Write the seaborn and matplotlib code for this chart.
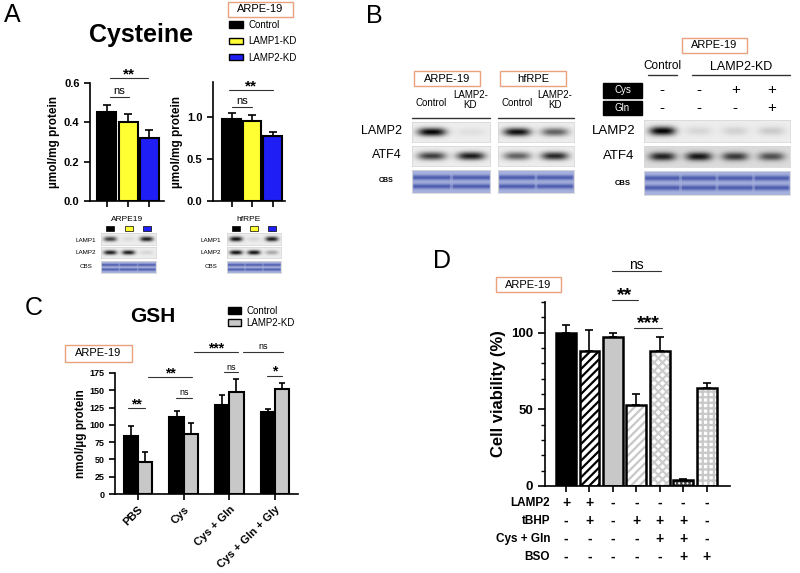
import numpy as np
import pandas as pd
import matplotlib.pyplot as plt
import seaborn as sns
from matplotlib.patches import Rectangle, Patch
from matplotlib.lines import Line2D
from matplotlib.ticker import MultipleLocator

W, H = 800, 573

# ---- Panel A: cysteine (umol/mg protein) ----
a_groups = ['Control', 'LAMP1-KD', 'LAMP2-KD']
a_colors = ['#000000', '#ffff33', '#1e1ef5']
a_arpe_mean = [0.45, 0.40, 0.32]
a_arpe_err = [0.04, 0.04, 0.04]
a_hfrpe_mean = [0.98, 0.95, 0.77]
a_hfrpe_err = [0.07, 0.08, 0.05]
# blot band intensities, 0 = no band, 1 = saturated
a_arpe_lamp1 = [0.75, 0.08, 0.9]
a_arpe_lamp2 = [0.9, 0.9, 0.1]
a_hfrpe_lamp1 = [0.95, 0.1, 0.9]
a_hfrpe_lamp2 = [0.95, 0.95, 0.3]

# ---- Panel B: blots ----
b_arpe_lamp2 = [1.0, 0.06]
b_arpe_atf4 = [0.75, 0.9]
b_hfrpe_lamp2 = [0.95, 0.6]
b_hfrpe_atf4 = [0.6, 0.85]
b_treat_lamp2 = [1.0, 0.1, 0.12, 0.15]
b_treat_atf4 = [0.8, 0.85, 0.7, 0.6]
b_cys = ['-', '-', '+', '+']
b_gln = ['-', '-', '-', '+']

# ---- Panel C: GSH (nmol/ug protein) ----
c_treatments = ['PBS', 'Cys', 'Cys + Gln', 'Cys + Gln + Gly']
c_control = [84, 112, 128, 119]
c_control_err = [14, 8, 15, 4]
c_kd = [46, 87, 147, 152]
c_kd_err = [15, 16, 20, 8]

# ---- Panel D: cell viability (%) ----
d_conditions = ['ctrl', 'tBHP', 'KD', 'KD+tBHP', 'KD+tBHP+CG', 'KD+tBHP+CG+BSO', 'KD+BSO']
d_viability = [100, 88, 97, 53, 88, 4, 64]
d_err = [5, 14, 3, 7, 9, 0.6, 3]
d_lamp2 = ['+', '+', '-', '-', '-', '-', '-']
d_tbhp = ['-', '+', '-', '+', '+', '+', '-']
d_cysgln = ['-', '-', '-', '-', '+', '+', '-']
d_bso = ['-', '-', '-', '-', '-', '+', '+']


# pixel (top-left origin) helpers
def fig_axes(fig, x0, y0, x1, y1):
    return fig.add_axes([x0 / W, 1 - y1 / H, (x1 - x0) / W, (y1 - y0) / H])


def fig_text(fig, x, y, s, **kw):
    kw.setdefault('ha', 'center')
    kw.setdefault('va', 'center')
    fig.text(x / W, 1 - y / H, s, **kw)


def fig_box(fig, x0, y0, x1, y1, text, fc='white', ec='#e9a27e', color='k', size=8):
    fig.add_artist(Rectangle((x0 / W, 1 - y1 / H), (x1 - x0) / W, (y1 - y0) / H,
                             transform=fig.transFigure, fc=fc, ec=ec, lw=1))
    fig_text(fig, (x0 + x1) / 2, (y0 + y1) / 2, text, size=size, color=color)


def fig_line(fig, x0, x1, y, lw=1.0):
    fig.add_artist(Line2D([x0 / W, x1 / W], [1 - y / H, 1 - y / H],
                          transform=fig.transFigure, color='#333333', lw=lw))


def sig(ax, x0, x1, y, label, size=10):
    ax.plot([x0, x1], [y, y], color='#333333', lw=0.8, clip_on=False)
    star = '*' in label
    ax.annotate(label, xy=((x0 + x1) / 2, y), xytext=(0, 0 if star else 2),
                textcoords='offset points', ha='center', va='baseline',
                fontsize=size, weight='bold' if star else 'normal', annotation_clip=False)


# blot rendering from band intensities
def band_strip(levels, bg=0.93):
    n = len(levels)
    xs = np.linspace(0, n, 50 * n)
    ys = np.linspace(-1, 1, 24)
    img = np.zeros((ys.size, xs.size))
    for i, lv in enumerate(levels):
        px = np.exp(-np.abs((xs - i - 0.5) / 0.36) ** 3)
        py = np.exp(-(ys / 0.42) ** 2)
        img += lv * np.outer(py, px)
    return np.clip(bg - 0.92 * img, 0, 1)


def cbs_strip(n):
    xs = np.linspace(0, n, 50 * n)
    ys = np.linspace(0, 1, 24)
    bg = np.array([0.66, 0.70, 0.87])
    band = np.array([0.30, 0.36, 0.68])
    py = np.exp(-((ys - 0.32) / 0.11) ** 2) + np.exp(-((ys - 0.72) / 0.11) ** 2)
    frac = xs % 1
    px = np.where((frac < 0.04) | (frac > 0.96), 0.5, 1.0)
    w = np.clip(np.outer(py, px), 0, 1)[..., None]
    return bg * (1 - w) + band * w


def strip(fig, x0, y0, x1, y1, img):
    ax = fig_axes(fig, x0, y0, x1, y1)
    ax.imshow(img, cmap='gray', vmin=0, vmax=1, aspect='auto', interpolation='bilinear')
    ax.set_xticks([])
    ax.set_yticks([])
    for s in ax.spines.values():
        s.set_color('#d8d8d8')
        s.set_linewidth(0.6)


def bold_ticks(ax, size):
    for lab in ax.get_yticklabels():
        lab.set_fontweight('bold')
        lab.set_fontsize(size)


def cys_bars(fig, box, means, errs, xlim, ytop, yticks, xlabel, sigs):
    ax = fig_axes(fig, *box)
    sns.barplot(x=a_groups, y=means, hue=a_groups, palette=a_colors, legend=False,
                saturation=1, edgecolor='k', linewidth=1.5, width=0.9, ax=ax)
    ax.errorbar(range(3), means, yerr=[[0] * 3, errs], fmt='none', ecolor='k',
                elinewidth=1.2, capsize=3, capthick=1.2)
    ax.set_xlim(*xlim)
    ax.set_ylim(0, ytop)
    ax.set_yticks(yticks)
    ax.set_yticklabels([f'{t:.1f}' for t in yticks])
    bold_ticks(ax, 8)
    ax.set_xticks(range(3))
    ax.set_xticklabels([''] * 3)
    ax.set_xlabel(xlabel, fontsize=6, labelpad=3)
    ax.set_ylabel('µmol/mg protein', fontsize=8.5, weight='bold', labelpad=3)
    sns.despine(ax=ax)
    for x0, x1, y, lab in sigs:
        sig(ax, x0, x1, y, lab, size=11 if '*' in lab else 8)


def small_blot(fig, x0, x1, label_x, lamp1, lamp2):
    lane = (x1 - x0) / 3
    for i, c in enumerate(a_colors):
        cx = x0 + lane * (i + 0.5)
        fig.add_artist(Rectangle(((cx - 4) / W, 1 - 231 / H), 8 / W, 5 / H,
                                 transform=fig.transFigure, fc=c, ec='k', lw=0.5))
    strip(fig, x0, 233, x1, 245, band_strip(lamp1))
    strip(fig, x0, 247, x1, 258, band_strip(lamp2))
    strip(fig, x0, 261, x1, 273, cbs_strip(3))
    for y, name in [(240, 'LAMP1'), (252, 'LAMP2'), (267, 'CBS')]:
        fig_text(fig, label_x, y, name, size=4.5)


def panel_a(fig):
    fig_text(fig, 12, 15, 'A', size=18)
    fig_text(fig, 141, 35, 'Cysteine', size=18, weight='bold')
    fig_box(fig, 228, 2, 293, 17, 'ARPE-19')
    handles = [Patch(fc=c, ec='k', lw=1) for c in a_colors]
    fig.legend(handles, a_groups, loc='upper left', bbox_to_anchor=(229 / W, 1 - 20 / H),
               frameon=False, fontsize=7, handlelength=1.4, handleheight=0.6,
               labelspacing=0.65, handletextpad=0.6, borderpad=0, borderaxespad=0)
    cys_bars(fig, (90, 83, 164, 201), a_arpe_mean, a_arpe_err, (-0.8, 2.7), 0.6,
             [0, 0.2, 0.4, 0.6], 'ARPE19', [(0.15, 1.95, 0.625, '**'), (0.15, 1.05, 0.53, 'ns')])
    cys_bars(fig, (213, 82, 285, 201), a_hfrpe_mean, a_hfrpe_err, (-0.9, 2.6), 1.42,
             [0, 0.5, 1.0], 'hfRPE', [(-0.1, 2.0, 1.32, '**'), (0, 1.0, 1.12, 'ns')])
    small_blot(fig, 101, 156, 86, a_arpe_lamp1, a_arpe_lamp2)
    small_blot(fig, 227, 281, 211, a_hfrpe_lamp1, a_hfrpe_lamp2)


def panel_b(fig):
    fig_text(fig, 374, 16, 'B', size=18)
    for x0, x1, title, lamp2, atf4 in [(412, 490, 'ARPE-19', b_arpe_lamp2, b_arpe_atf4),
                                       (498, 574, 'hfRPE', b_hfrpe_lamp2, b_hfrpe_atf4)]:
        fig_box(fig, x0 + 2, 71, x0 + 68, 86, title)
        lane = (x1 - x0) / 2
        fig_text(fig, x0 + lane * 0.5, 103, 'Control', size=7)
        fig_text(fig, x0 + lane * 1.5, 100, 'LAMP2-\nKD', size=7, linespacing=0.95)
        fig_line(fig, x0, x1, 118)
        strip(fig, x0, 122, x1, 142, band_strip(lamp2))
        strip(fig, x0, 146, x1, 166, band_strip(atf4))
        strip(fig, x0, 170, x1, 193, cbs_strip(2))
    fig_text(fig, 382, 131, 'LAMP2', size=9)
    fig_text(fig, 387, 155, 'ATF4', size=9)
    fig_text(fig, 386, 181, 'CBS', size=5, weight='bold')

    fig_box(fig, 682, 38, 747, 53, 'ARPE-19')
    fig_text(fig, 662, 66, 'Control', size=8.5)
    fig_text(fig, 741, 67, 'LAMP2-KD', size=9)
    fig_line(fig, 648, 677, 75)
    fig_line(fig, 692, 790, 75)
    fig_box(fig, 603, 83, 642, 98, 'Cys', fc='k', ec='k', color='w', size=7)
    fig_box(fig, 603, 101, 642, 115, 'Gln', fc='k', ec='k', color='w', size=7)
    x0, x1 = 644, 790
    lane = (x1 - x0) / 4
    for i, (c, g) in enumerate(zip(b_cys, b_gln)):
        cx = x0 + lane * (i + 0.5)
        fig_text(fig, cx, 90, c, size=11)
        fig_text(fig, cx, 108, g, size=11)
    strip(fig, x0, 120, x1, 142, band_strip(b_treat_lamp2))
    strip(fig, x0, 146, x1, 167, band_strip(b_treat_atf4, bg=0.86))
    strip(fig, x0, 171, x1, 195, cbs_strip(4))
    fig_text(fig, 614, 131, 'LAMP2', size=9.5)
    fig_text(fig, 619, 156, 'ATF4', size=9.5)
    fig_text(fig, 623, 183, 'CBS', size=5.5, weight='bold')


def panel_c(fig):
    fig_text(fig, 34, 308, 'C', size=18)
    fig_text(fig, 153, 316, 'GSH', size=15, weight='bold')
    fig_box(fig, 65, 345, 132, 362, 'ARPE-19')
    colors = ['#000000', '#c8c8c8']
    handles = [Patch(fc=c, ec='k', lw=1) for c in colors]
    fig.legend(handles, ['Control', 'LAMP2-KD'], loc='upper left',
               bbox_to_anchor=(228 / W, 1 - 306 / H), frameon=False, fontsize=7,
               handlelength=1.3, handleheight=0.6, labelspacing=0.2, handletextpad=0.6,
               borderpad=0, borderaxespad=0)

    ax = fig_axes(fig, 115, 373, 298, 494)
    df = pd.DataFrame({'treatment': c_treatments * 2,
                       'group': ['Control'] * 4 + ['LAMP2-KD'] * 4,
                       'value': c_control + c_kd})
    sns.barplot(data=df, x='treatment', y='value', hue='group', palette=colors,
                saturation=1, edgecolor='k', linewidth=1.5, width=0.62, legend=False, ax=ax)
    xs = np.arange(4)
    ax.errorbar(xs - 0.155, c_control, yerr=[[0] * 4, c_control_err], fmt='none',
                ecolor='k', elinewidth=1.2, capsize=2.5, capthick=1.2)
    ax.errorbar(xs + 0.155, c_kd, yerr=[[0] * 4, c_kd_err], fmt='none',
                ecolor='k', elinewidth=1.2, capsize=2.5, capthick=1.2)
    ax.set_xlim(-0.5, 3.5)
    ax.set_ylim(0, 175)
    ax.set_yticks(range(0, 176, 25))
    bold_ticks(ax, 6.5)
    ax.set_xticks(xs)
    ax.set_xticklabels(c_treatments, rotation=45, ha='right', rotation_mode='anchor',
                       fontsize=8, weight='bold')
    ax.set_xlabel('')
    ax.set_ylabel('nmol/µg protein', fontsize=8.5, weight='bold', labelpad=2)
    sns.despine(ax=ax)
    for x0, x1, y, lab in [(-0.22, 0.16, 124, '**'), (0.22, 1.18, 169, '**'),
                           (0.83, 1.18, 139, 'ns'), (1.88, 2.19, 176, 'ns'),
                           (1.23, 2.19, 205, '***'), (2.30, 3.17, 205, 'ns'),
                           (2.82, 3.15, 171, '*')]:
        sig(ax, x0, x1, y, lab, size=10 if '*' in lab else 6.5)


def panel_d(fig):
    fig_text(fig, 442, 261, 'D', size=18)
    fig_box(fig, 496, 277, 561, 292, 'ARPE-19')
    ax = fig_axes(fig, 545, 302, 730, 486)
    fills = ['#000000', '#ffffff', '#c8c8c8', '#ffffff', '#ffffff', '#ffffff', '#ffffff']
    hatches = ['', '////', '', '////', 'xxxx', '++++', '+++']
    hatch_colors = ['k', 'k', 'k', '#c8c8c8', '#cccccc', '#444444', '#c8c8c8']
    sns.barplot(x=d_conditions, y=d_viability, hue=d_conditions, palette=fills, legend=False,
                saturation=1, width=0.85, ax=ax)
    for p, h, hc in zip(ax.patches, hatches, hatch_colors):
        p.set_hatch(h)
        p.set_edgecolor(hc)
        p.set_linewidth(0)
    xs = np.arange(len(d_viability))
    ax.bar(xs, d_viability, width=0.85, fill=False, edgecolor='k', lw=1.8)
    ax.errorbar(xs, d_viability, yerr=[[0] * len(xs), d_err], fmt='none', ecolor='k',
                elinewidth=1.2, capsize=3, capthick=1.2)
    ax.set_xlim(-0.9, 7.0)
    ax.set_ylim(0, 120)
    ax.set_yticks([0, 50, 100])
    ax.yaxis.set_minor_locator(MultipleLocator(10))
    ax.tick_params(axis='y', which='major', length=5, width=1.2)
    ax.tick_params(axis='y', which='minor', length=3, width=1.0)
    bold_ticks(ax, 9.5)
    ax.set_xticks(xs)
    ax.set_xticklabels([''] * len(xs))
    ax.set_xlabel('')
    ax.set_ylabel('Cell viability (%)', fontsize=12, weight='bold', labelpad=4)
    sns.despine(ax=ax)
    for x0, x1, y, lab in [(1.96, 4.04, 140, 'ns'), (1.96, 3.06, 121, '**'),
                           (2.9, 4.1, 103, '***')]:
        sig(ax, x0, x1, y, lab, size=14 if '*' in lab else 10)

    tr = ax.get_xaxis_transform()
    rows = [('LAMP2', d_lamp2), ('tBHP', d_tbhp), ('Cys + Gln', d_cysgln), ('BSO', d_bso)]
    for k, (name, signs) in enumerate(rows):
        y = -0.092 - 0.098 * k
        ax.text(-0.68, y, name, transform=tr, ha='right', va='center',
                fontsize=8.5, weight='bold')
        for i, s in enumerate(signs):
            ax.text(i, y, s, transform=tr, ha='center', va='center', fontsize=10, weight='bold')


def main():
    sns.set_style('ticks')
    plt.rcParams['font.family'] = ['Liberation Sans', 'DejaVu Sans']
    for key in ['text.color', 'axes.labelcolor', 'axes.edgecolor', 'xtick.color', 'ytick.color']:
        plt.rcParams[key] = 'black'
    plt.rcParams['axes.linewidth'] = 1.2
    plt.rcParams['xtick.major.width'] = 1.2
    plt.rcParams['ytick.major.width'] = 1.2
    plt.rcParams['xtick.major.size'] = 4
    plt.rcParams['ytick.major.size'] = 4
    plt.rcParams['hatch.linewidth'] = 1.6

    fig = plt.figure(figsize=(W / 100, H / 100), dpi=100)
    panel_a(fig)
    panel_b(fig)
    panel_c(fig)
    panel_d(fig)
    fig.savefig('out.png', dpi=100)


if __name__ == '__main__':
    main()
